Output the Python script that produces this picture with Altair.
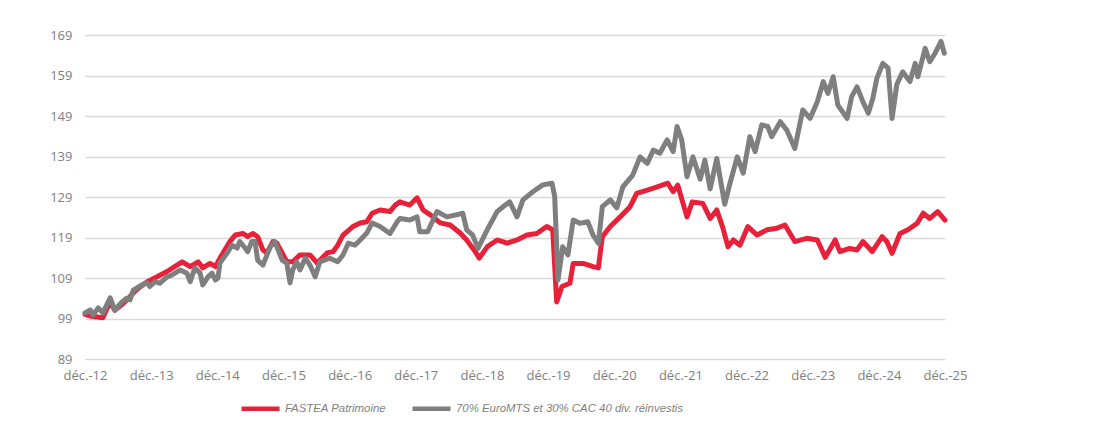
import altair as alt
import pandas as pd

# ---- data (x in decimal years, Dec 2012 = 2012.92) ----
series_names = ["FASTEA Patrimoine", "70% EuroMTS et 30% CAC 40 div. réinvestis"]
series_colors = ["#E8213A", "#7F7F7F"]

red_t = [2012.92, 2013.00, 2013.19, 2013.30, 2013.37, 2013.48, 2013.55, 2013.71, 2013.86, 2014.01,
         2014.16, 2014.31, 2014.39, 2014.51, 2014.63, 2014.70, 2014.81, 2014.89, 2014.96, 2015.11,
         2015.19, 2015.31, 2015.38, 2015.46, 2015.53, 2015.61, 2015.67, 2015.76, 2015.82, 2015.90,
         2015.97, 2016.06, 2016.17, 2016.32, 2016.43, 2016.58, 2016.67, 2016.74, 2016.82, 2016.97,
         2017.08, 2017.18, 2017.26, 2017.38, 2017.53, 2017.61, 2017.68, 2017.83, 2017.94, 2018.03,
         2018.14, 2018.29, 2018.44, 2018.59, 2018.69, 2018.82, 2018.88, 2019.00, 2019.15, 2019.30,
         2019.45, 2019.60, 2019.75, 2019.90, 2019.99, 2020.05, 2020.13, 2020.25, 2020.30, 2020.45,
         2020.60, 2020.68, 2020.74, 2020.86, 2021.01, 2021.16, 2021.26, 2021.42, 2021.57, 2021.73,
         2021.81, 2021.88, 2022.02, 2022.10, 2022.26, 2022.37, 2022.47, 2022.56, 2022.64, 2022.72,
         2022.82, 2022.94, 2023.08, 2023.23, 2023.38, 2023.50, 2023.65, 2023.83, 2023.99, 2024.11,
         2024.26, 2024.33, 2024.48, 2024.59, 2024.68, 2024.82, 2024.97, 2025.04, 2025.12, 2025.24,
         2025.36, 2025.50, 2025.59, 2025.69, 2025.81, 2025.92]
red_v = [100.0, 99.6, 99.2, 103.2, 101.0, 102.5, 103.6, 106.3, 108.1, 109.3,
         110.6, 112.2, 113.0, 111.8, 113.0, 111.5, 112.6, 111.8, 113.9, 118.0,
         119.6, 120.0, 119.2, 120.0, 119.2, 115.9, 115.2, 118.0, 117.6, 115.2,
         113.0, 113.0, 114.7, 114.7, 112.7, 115.2, 115.5, 117.1, 119.6, 121.7,
         122.6, 122.9, 125.0, 125.8, 125.4, 127.0, 127.8, 127.0, 128.8, 125.8,
         124.6, 122.6, 122.1, 120.1, 118.4, 115.5, 113.9, 116.7, 118.4, 117.6,
         118.4, 119.6, 120.0, 121.7, 120.9, 103.1, 106.9, 107.7, 112.6, 112.6,
         111.8, 111.5, 119.2, 121.7, 124.1, 126.6, 129.9, 130.7, 131.5, 132.4,
         130.3, 131.9, 124.1, 127.8, 127.4, 123.7, 125.8, 121.5, 116.7, 118.4,
         117.1, 121.7, 119.6, 120.9, 121.3, 122.1, 118.0, 118.8, 118.4, 114.1,
         118.4, 115.5, 116.3, 115.9, 118.0, 115.5, 119.2, 118.0, 115.1, 120.0,
         120.9, 122.5, 125.0, 123.7, 125.4, 123.3]

gray_t = [2012.92, 2013.00, 2013.04, 2013.12, 2013.19, 2013.30, 2013.37, 2013.48, 2013.55, 2013.60,
          2013.65, 2013.78, 2013.86, 2013.90, 2013.98, 2014.05, 2014.16, 2014.23, 2014.36, 2014.46,
          2014.51, 2014.58, 2014.66, 2014.70, 2014.78, 2014.84, 2014.89, 2014.93, 2014.96, 2015.07,
          2015.14, 2015.22, 2015.26, 2015.34, 2015.38, 2015.44, 2015.49, 2015.53, 2015.61, 2015.72,
          2015.79, 2015.84, 2015.90, 2015.97, 2016.02, 2016.06, 2016.12, 2016.17, 2016.25, 2016.32,
          2016.40, 2016.47, 2016.62, 2016.74, 2016.82, 2016.90, 2017.00, 2017.08, 2017.18, 2017.26,
          2017.38, 2017.53, 2017.64, 2017.68, 2017.83, 2017.94, 2017.98, 2018.10, 2018.24, 2018.39,
          2018.54, 2018.63, 2018.69, 2018.78, 2018.86, 2019.00, 2019.15, 2019.24, 2019.34, 2019.45,
          2019.54, 2019.69, 2019.84, 2019.98, 2020.02, 2020.07, 2020.14, 2020.22, 2020.30, 2020.40,
          2020.52, 2020.60, 2020.68, 2020.74, 2020.86, 2020.96, 2021.05, 2021.20, 2021.31, 2021.42,
          2021.51, 2021.61, 2021.72, 2021.81, 2021.87, 2021.94, 2022.02, 2022.11, 2022.22, 2022.29,
          2022.37, 2022.47, 2022.59, 2022.67, 2022.78, 2022.87, 2022.97, 2023.05, 2023.15, 2023.24,
          2023.30, 2023.43, 2023.53, 2023.65, 2023.77, 2023.88, 2023.99, 2024.08, 2024.15, 2024.23,
          2024.30, 2024.44, 2024.51, 2024.59, 2024.68, 2024.76, 2024.83, 2024.89, 2024.98, 2025.06,
          2025.12, 2025.19, 2025.28, 2025.39, 2025.47, 2025.51, 2025.62, 2025.69, 2025.77, 2025.86,
          2025.91]
gray_v = [100.4, 101.1, 99.9, 101.6, 100.4, 104.1, 101.1, 103.1, 104.0, 103.6,
          106.0, 107.3, 107.8, 106.9, 108.1, 107.7, 109.3, 109.7, 111.0, 110.2,
          108.1, 111.5, 110.2, 107.3, 109.3, 110.2, 108.5, 109.0, 112.7, 115.2,
          117.1, 116.4, 118.0, 116.4, 115.5, 118.0, 118.0, 113.4, 112.2, 116.7,
          118.0, 115.9, 113.4, 112.7, 107.8, 111.0, 113.0, 111.0, 113.9, 112.2,
          109.3, 113.0, 113.9, 113.0, 114.7, 117.6, 117.1, 118.4, 120.1, 122.6,
          121.7, 120.0, 122.9, 123.7, 123.3, 124.1, 120.4, 120.4, 125.4, 124.1,
          124.6, 125.0, 120.9, 119.6, 116.3, 120.9, 125.4, 126.6, 127.8, 124.1,
          128.3, 130.3, 132.0, 132.4, 129.1, 108.5, 116.7, 114.7, 123.3, 122.5,
          122.9, 119.6, 117.6, 126.6, 128.3, 126.3, 131.5, 134.4, 138.9, 137.3,
          140.6, 139.8, 143.1, 140.2, 146.4, 143.1, 134.0, 138.9, 133.4, 138.1,
          131.0, 138.5, 127.2, 132.4, 138.9, 134.9, 143.9, 140.2, 146.8, 146.4,
          143.9, 147.6, 145.5, 141.0, 150.5, 148.4, 152.5, 157.5, 154.6, 158.7,
          151.7, 148.4, 153.8, 156.2, 152.5, 149.7, 153.4, 158.3, 162.0, 160.8,
          148.4, 156.7, 159.9, 157.5, 162.0, 158.7, 165.7, 162.4, 164.5, 167.4,
          164.5]

y_ticks = [89, 99, 109, 119, 129, 139, 149, 159, 169]
x_ticks = [2012.92 + k for k in range(14)]
x_labels = ["déc.-12", "déc.-13", "déc.-14", "déc.-15", "déc.-16", "déc.-17", "déc.-18",
            "déc.-19", "déc.-20", "déc.-21", "déc.-22", "déc.-23", "déc.-24", "déc.-25"]

red_df = pd.DataFrame({"t": red_t, "v": red_v, "s": series_names[0]})
gray_df = pd.DataFrame({"t": gray_t, "v": gray_v, "s": series_names[1]})

label_array = "[" + ",".join("'" + l + "'" for l in x_labels) + "]"
label_expr = label_array + "[round(datum.value - 2012.92)]"

color_scale = alt.Scale(domain=series_names, range=series_colors)

x_enc = alt.X("t:Q", scale=alt.Scale(domain=[2012.92, 2025.92], nice=False, zero=False),
              axis=alt.Axis(values=x_ticks, labelExpr=label_expr, grid=False, domain=False,
                            ticks=False, labelPadding=10, title=None,
                            labelFlush=False, labelOverlap=False))
y_enc = alt.Y("v:Q", scale=alt.Scale(domain=[89, 169], nice=False, zero=False),
              axis=alt.Axis(values=y_ticks, grid=True, domain=False, ticks=False,
                            labelPadding=13, title=None, gridColor="#D9D9D9",
                            gridWidth=1.5))

legend = alt.Legend(title=None, orient="none", legendX=154, legendY=352,
                    direction="horizontal", columns=2, symbolType="stroke",
                    symbolSize=1444, symbolStrokeWidth=4.5, labelFontStyle="italic",
                    labelFont="Liberation Sans", labelFontSize=11.4, labelColor="#7F7F7F",
                    labelLimit=0, columnPadding=16, labelOffset=3, padding=0)

mark_opts = dict(strokeWidth=5, strokeCap="round", strokeJoin="round")

red_line = alt.Chart(red_df).mark_line(**mark_opts).encode(
    x=x_enc, y=y_enc, color=alt.Color("s:N", scale=color_scale, legend=legend)
)
gray_line = alt.Chart(gray_df).mark_line(**mark_opts).encode(
    x=x_enc, y=y_enc, color=alt.Color("s:N", scale=color_scale, legend=legend)
)

chart = alt.layer(red_line, gray_line).properties(
    width=860, height=324,
    padding={"left": 77, "top": 27, "right": 163, "bottom": 81},
    autosize=alt.AutoSizeParams(type="none"),
).configure_view(stroke=None).configure_axis(
    labelFont="Open Sans", labelFontSize=13, labelColor="#808080"
)

chart.save("out.html", embed_options={"renderer": "svg", "actions": False})
